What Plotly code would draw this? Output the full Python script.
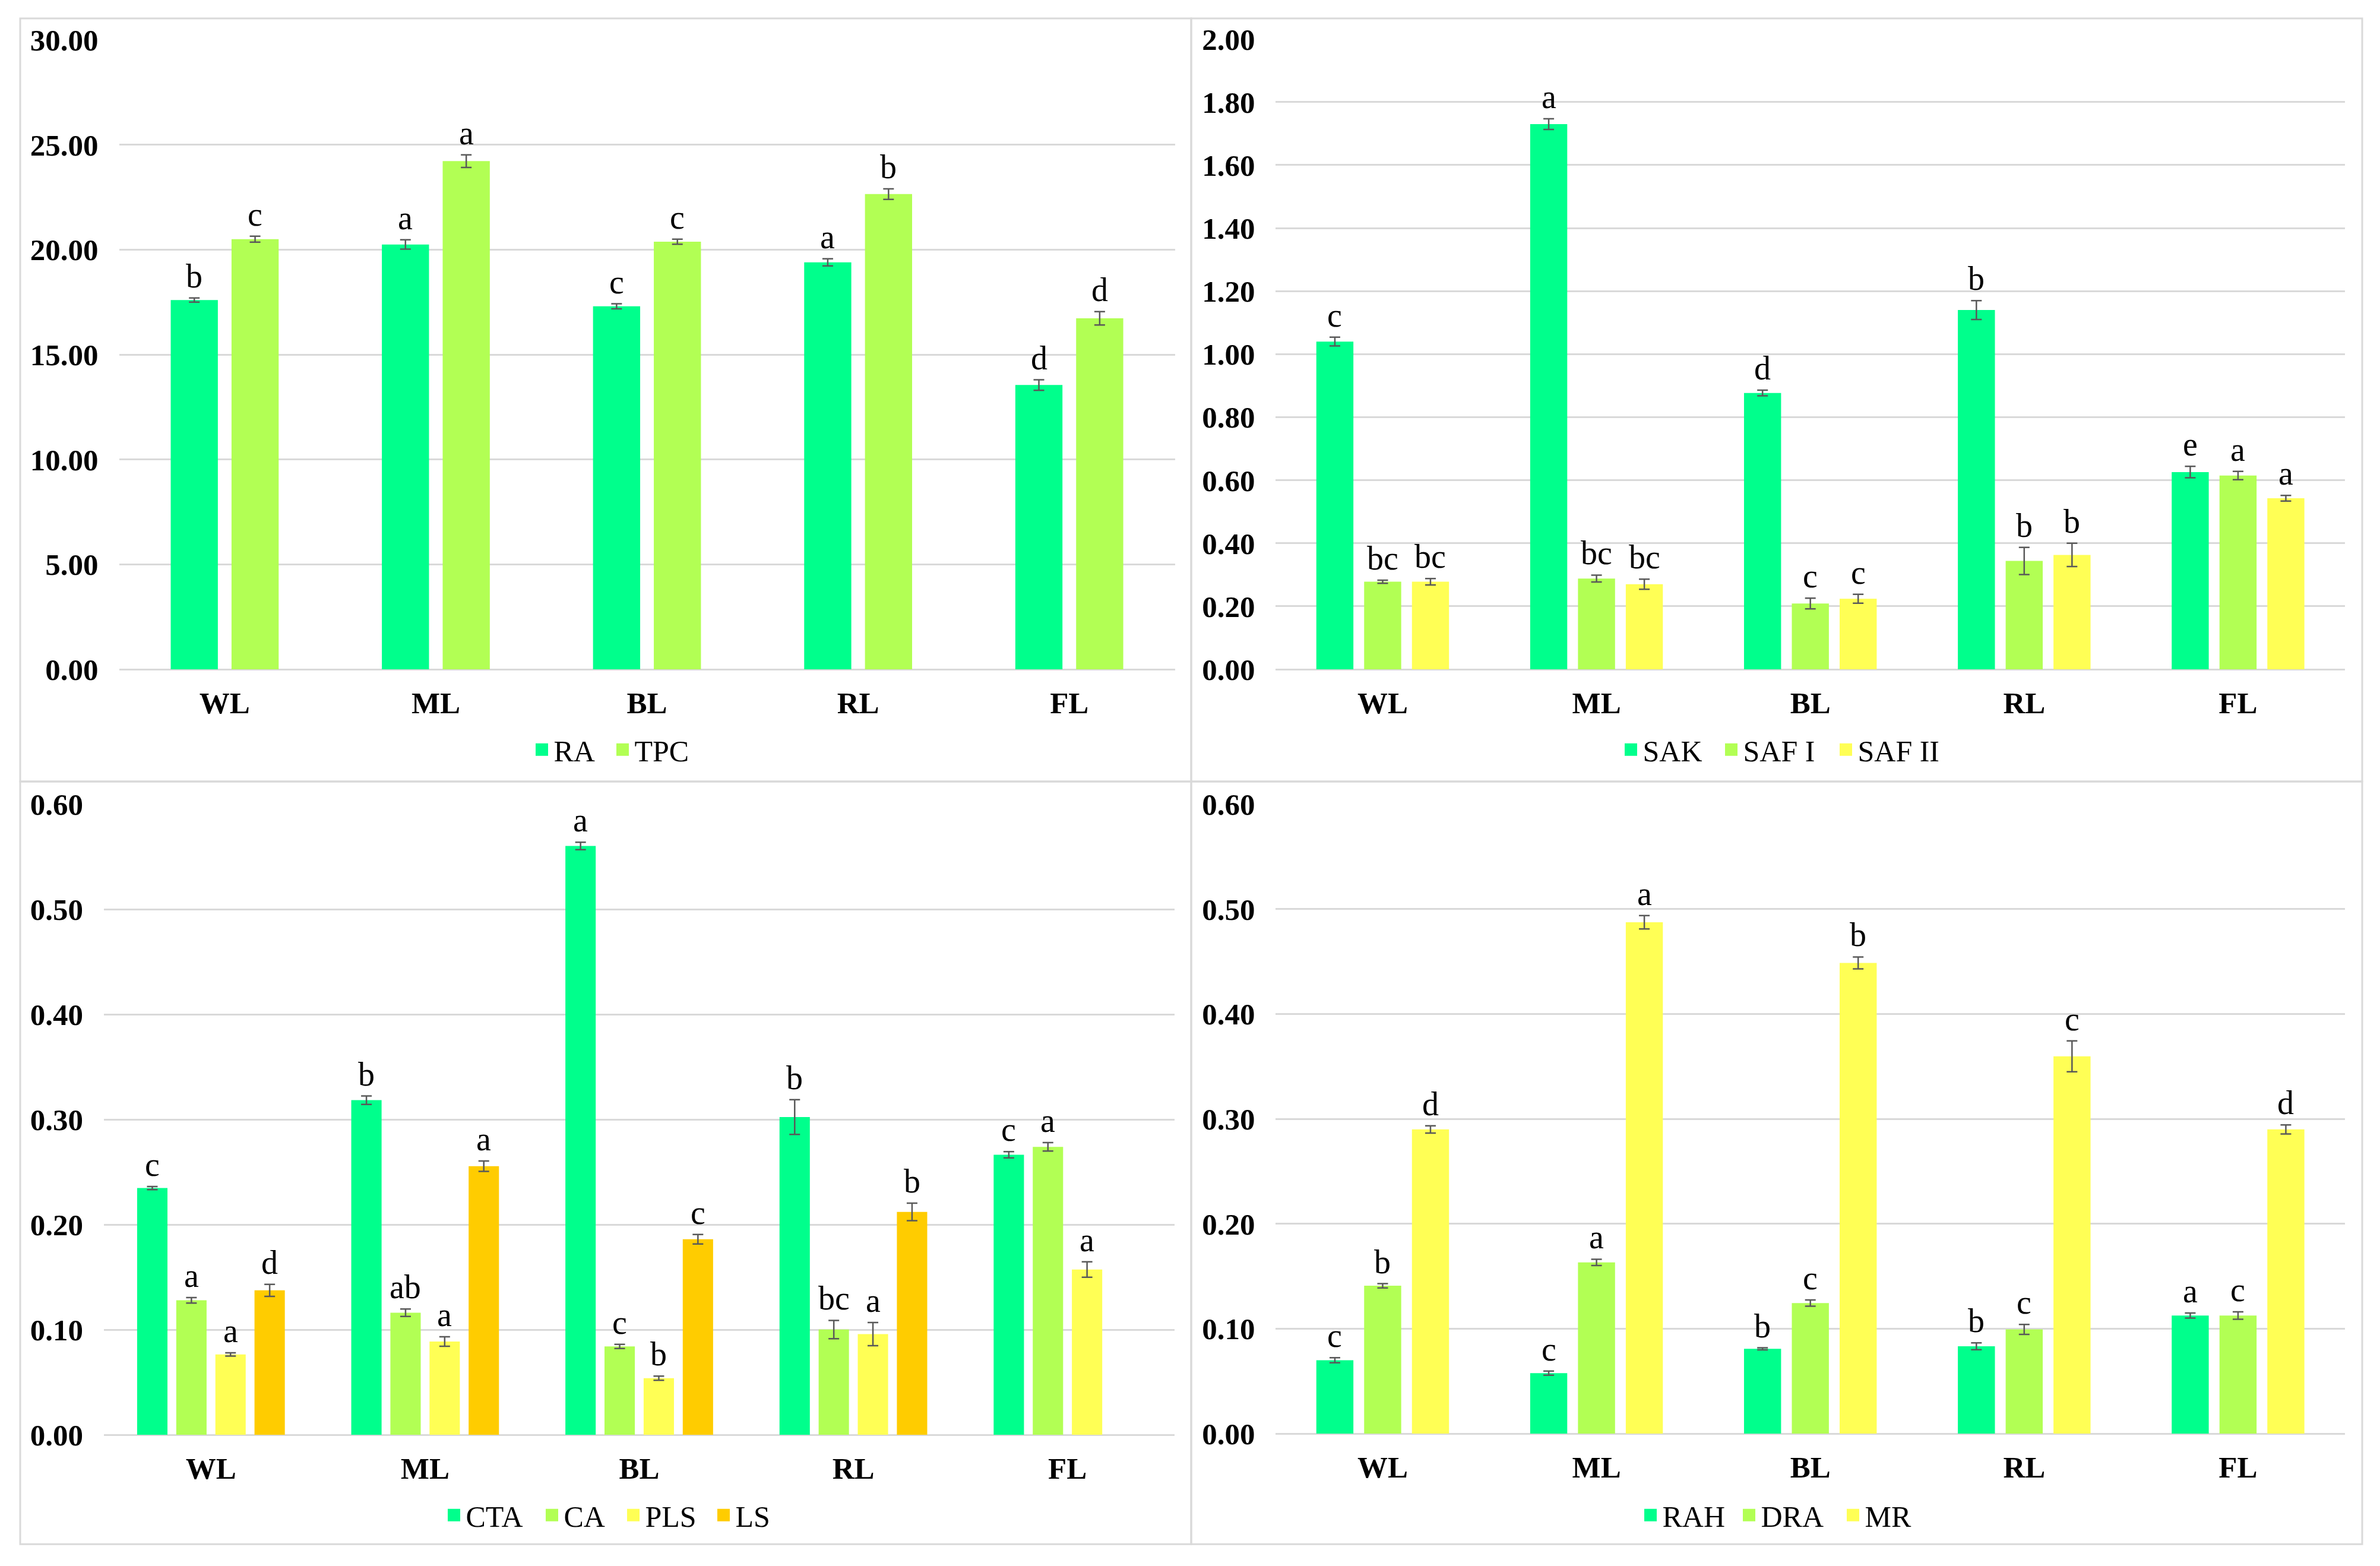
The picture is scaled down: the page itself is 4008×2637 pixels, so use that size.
import plotly.graph_objects as go

W, H = 4008, 2637

categories = ["WL", "ML", "BL", "RL", "FL"]

# ---- Panel 1 (top-left) ----
p1_names = ["RA", "TPC"]
ra_values = [17.60, 20.25, 17.30, 19.40, 13.55]
ra_errors = [0.10, 0.22, 0.12, 0.17, 0.25]
ra_letters = ["b", "a", "c", "a", "d"]
tpc_values = [20.50, 24.22, 20.38, 22.65, 16.73]
tpc_errors = [0.14, 0.30, 0.12, 0.25, 0.32]
tpc_letters = ["c", "a", "c", "b", "d"]
p1_ticks = [0, 5, 10, 15, 20, 25, 30]

# ---- Panel 2 (top-right) ----
p2_names = ["SAK", "SAF I", "SAF II"]
sak_values = [1.040, 1.730, 0.877, 1.140, 0.626]
sak_errors = [0.014, 0.017, 0.009, 0.030, 0.018]
sak_letters = ["c", "a", "d", "b", "e"]
safi_values = [0.278, 0.288, 0.209, 0.344, 0.615]
safi_errors = [0.005, 0.011, 0.017, 0.043, 0.013]
safi_letters = ["bc", "bc", "c", "b", "a"]
safii_values = [0.278, 0.270, 0.224, 0.363, 0.543]
safii_errors = [0.010, 0.016, 0.014, 0.037, 0.009]
safii_letters = ["bc", "bc", "c", "b", "a"]
p2_ticks = [0, 0.2, 0.4, 0.6, 0.8, 1.0, 1.2, 1.4, 1.6, 1.8, 2.0]

# ---- Panel 3 (bottom-left) ----
p3_names = ["CTA", "CA", "PLS", "LS"]
cta_values = [0.2348, 0.3184, 0.5603, 0.3024, 0.2665]
cta_errors = [0.0015, 0.0040, 0.0035, 0.0165, 0.0030]
cta_letters = ["c", "b", "a", "b", "c"]
ca_values = [0.1280, 0.1162, 0.0841, 0.1002, 0.2740]
ca_errors = [0.0026, 0.0035, 0.0020, 0.0087, 0.0040]
ca_letters = ["a", "ab", "c", "bc", "a"]
pls_values = [0.0765, 0.0888, 0.0539, 0.0959, 0.1573]
pls_errors = [0.0015, 0.0045, 0.0020, 0.0110, 0.0073]
pls_letters = ["a", "a", "b", "a", "a"]
ls_values = [0.1375, 0.2556, 0.1861, 0.2121, None]
ls_errors = [0.0057, 0.0050, 0.0045, 0.0083, None]
ls_letters = ["d", "a", "c", "b", None]
p3_ticks = [0, 0.1, 0.2, 0.3, 0.4, 0.5, 0.6]

# ---- Panel 4 (bottom-right) ----
p4_names = ["RAH", "DRA", "MR"]
rah_values = [0.0700, 0.0577, 0.0809, 0.0833, 0.1126]
rah_errors = [0.0024, 0.0020, 0.0010, 0.0033, 0.0024]
rah_letters = ["c", "c", "b", "b", "a"]
dra_values = [0.1410, 0.1633, 0.1245, 0.0994, 0.1126]
dra_errors = [0.0020, 0.0030, 0.0030, 0.0047, 0.0035]
dra_letters = ["b", "a", "c", "c", "c"]
mr_values = [0.2900, 0.4875, 0.4487, 0.3597, 0.2900]
mr_errors = [0.0035, 0.0064, 0.0057, 0.0147, 0.0043]
mr_letters = ["d", "a", "b", "c", "d"]
p4_ticks = [0, 0.1, 0.2, 0.3, 0.4, 0.5, 0.6]

GREEN = "rgb(0,255,140)"
LIME = "rgb(178,255,84)"
YELLOW = "rgb(255,255,85)"
GOLD = "rgb(255,204,0)"

FONT = "Liberation Serif"
GRID = "#D9D9D9"

# layout geometry in pixels: plot = (left, right, top, bottom), box = panel border,
# legend_x = left edge of each legend swatch
panels = [
    dict(names=p1_names, values=[ra_values, tpc_values], errors=[ra_errors, tpc_errors],
         letters=[ra_letters, tpc_letters], colors=[GREEN, LIME], ticks=p1_ticks,
         plot=(200.6, 1978.5, 41.0, 1124.0), box=(34, 2006, 4, 1317),
         legend_y=1262, legend_x=[904, 1040]),
    dict(names=p2_names, values=[sak_values, safi_values, safii_values],
         errors=[sak_errors, safi_errors, safii_errors],
         letters=[sak_letters, safi_letters, safii_letters], colors=[GREEN, LIME, YELLOW], ticks=p2_ticks,
         plot=(2148.4, 3949.0, 39.5, 1124.0), box=(2006, 3978, 4, 1317),
         legend_y=1262, legend_x=[2738, 2907, 3100]),
    dict(names=p3_names, values=[cta_values, ca_values, pls_values, ls_values],
         errors=[cta_errors, ca_errors, pls_errors, ls_errors],
         letters=[cta_letters, ca_letters, pls_letters, ls_letters], colors=[GREEN, LIME, YELLOW, GOLD],
         ticks=p3_ticks, plot=(175.0, 1978.0, 1356.0, 2441.0), box=(34, 2006, 1317, 2629),
         legend_y=2579, legend_x=[756, 921, 1058, 1210]),
    dict(names=p4_names, values=[rah_values, dra_values, mr_values],
         errors=[rah_errors, dra_errors, mr_errors],
         letters=[rah_letters, dra_letters, mr_letters], colors=[GREEN, LIME, YELLOW], ticks=p4_ticks,
         plot=(2148.4, 3949.0, 1356.0, 2439.0), box=(2006, 3978, 1317, 2629),
         legend_y=2579, legend_x=[2771, 2937, 3112]),
]

GAP_WIDTH = 2.19   # gap between groups, as multiple of bar width
OVERLAP = 0.29     # gap between bars in a group, as multiple of bar width
SWATCH_OFFSET = 11.5  # px from legend box left edge to swatch left edge

fig = go.Figure()
layout = {}
annotations = []
shapes = []
xs = list(range(len(categories)))
legend_count = 0

for k, p in enumerate(panels, start=1):
    sfx = "" if k == 1 else str(k)
    xref, yref = "x" + sfx, "y" + sfx
    n = len(p["names"])
    b = 1.0 / (n + (n - 1) * OVERLAP + GAP_WIDTH)
    gi = OVERLAP * b
    total = n * b + (n - 1) * gi
    for i in range(n):
        off = -total / 2 + i * (b + gi)
        col = p["colors"][i]
        legend_count += 1
        lname = "legend" if legend_count == 1 else "legend%d" % legend_count
        fig.add_trace(go.Bar(
            x=xs, y=p["values"][i], width=b, offset=off,
            marker=dict(color=col, line=dict(width=0)),
            error_y=dict(type="data", array=p["errors"][i], visible=True,
                         color="#595959", thickness=2.5, width=9),
            name=p["names"][i], showlegend=False, xaxis=xref, yaxis=yref,
        ))
        fig.add_trace(go.Scatter(
            x=[None], y=[None], mode="markers",
            marker=dict(symbol="square", size=25, color=col, line=dict(color=col, width=5)),
            name=p["names"][i], legend=lname, showlegend=True, xaxis=xref, yaxis=yref,
        ))
        layout[lname] = dict(
            x=(p["legend_x"][i] - SWATCH_OFFSET) / W, xanchor="left",
            y=1 - p["legend_y"] / H, yanchor="middle",
            orientation="h", font=dict(family=FONT, size=50, color="black"),
            bgcolor="rgba(0,0,0,0)", itemwidth=30, itemclick=False, itemdoubleclick=False,
        )
        for j in xs:
            v = p["values"][i][j]
            lt = p["letters"][i][j]
            if v is None or lt is None:
                continue
            e = p["errors"][i][j] or 0
            annotations.append(dict(
                x=j + off + b / 2, y=v + e, xref=xref, yref=yref, text=lt,
                showarrow=False, xanchor="center", yanchor="bottom", yshift=4,
                font=dict(family=FONT, size=56, color="black"),
            ))
    x0, x1, y0, y1 = p["plot"]
    layout["xaxis" + sfx] = dict(
        domain=[x0 / W, x1 / W], range=[-0.5, len(categories) - 0.5],
        tickmode="array", tickvals=xs, ticktext=categories,
        showgrid=False, zeroline=False, showline=False, ticks="",
        tickfont=dict(family=FONT, size=51, color="black", weight="bold"),
        ticklabelstandoff=22, anchor=yref, fixedrange=True,
    )
    layout["yaxis" + sfx] = dict(
        domain=[1 - y1 / H, 1 - y0 / H], range=[0, p["ticks"][-1]],
        tickmode="array", tickvals=p["ticks"], tickformat=".2f",
        showgrid=True, gridcolor=GRID, gridwidth=3,
        zeroline=True, zerolinecolor=GRID, zerolinewidth=3, showline=False, ticks="",
        tickfont=dict(family=FONT, size=51, color="black", weight="bold"),
        ticklabelstandoff=34, anchor=xref, fixedrange=True,
    )
    bx0, bx1, by0, by1 = p["box"]
    shapes.append(dict(type="rect", xref="paper", yref="paper",
                       x0=bx0 / W, x1=bx1 / W, y0=1 - by1 / H, y1=1 - by0 / H,
                       line=dict(color=GRID, width=3), fillcolor="rgba(0,0,0,0)", layer="below"))

fig.update_layout(
    width=W, height=H, margin=dict(l=0, r=0, t=0, b=0),
    paper_bgcolor="white", plot_bgcolor="white",
    barmode="overlay", annotations=annotations, shapes=shapes,
    font=dict(family=FONT, color="black"),
    **layout,
)

fig.write_html("out.html", config={"displayModeBar": False},
               post_script="document.body.style.margin='0';")
